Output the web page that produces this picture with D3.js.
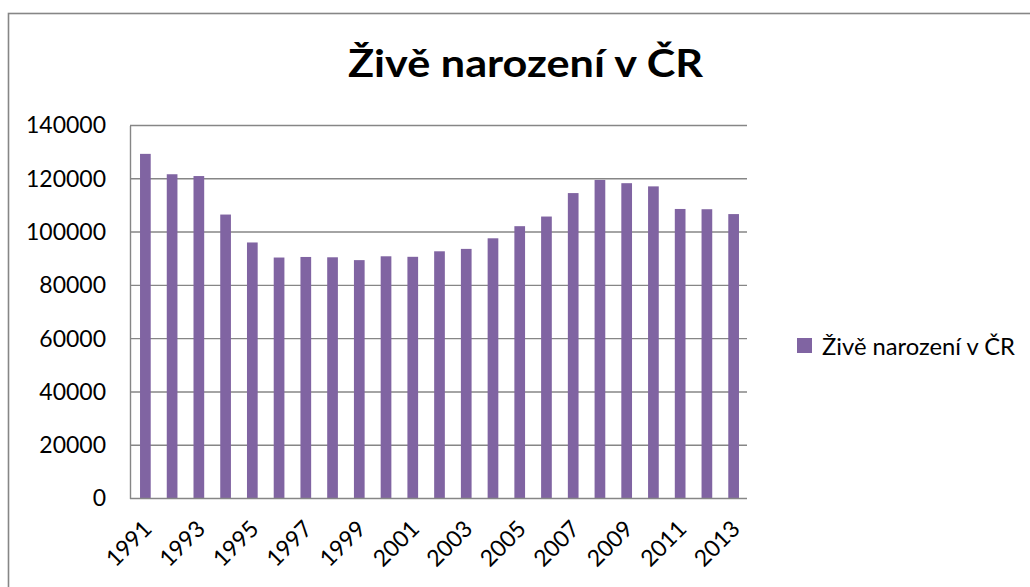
<!DOCTYPE html>
<html>
<head>
<meta charset="utf-8">
<script src="https://cdn.jsdelivr.net/npm/d3@7"></script>
<style>
  body { margin: 0; background: #fff; }
  svg { display: block; }
</style>
</head>
<body>
<svg width="1030" height="587"></svg>
<script>
// data
const years = ['1991','1992','1993','1994','1995','1996','1997','1998','1999','2000','2001','2002',
  '2003','2004','2005','2006','2007','2008','2009','2010','2011','2012','2013'];
const births = [129354,121705,121025,106579,96097,90446,90657,90535,89471,90910,90715,92786,
  93685,97664,102211,105831,114632,119570,118348,117153,108673,108576,106751];
const yTicks = [0,20000,40000,60000,80000,100000,120000,140000];
const seriesName = 'Živě narození v ČR';
const title = 'Živě narození v ČR';

const svg = d3.select('svg');
const gray = '#868686';
const purple = '#8064A2';
const font = 'Lato, "Open Sans", sans-serif';

// outer chart border (runs off the right and bottom)
svg.append('rect')
  .attr('x', 8.5).attr('y', 13.5)
  .attr('width', 1100).attr('height', 700)
  .attr('fill', 'none').attr('stroke', gray).attr('stroke-width', 1.6);

const plot = {left: 130, right: 747, top: 125.5, bottom: 498.5};

const x = d3.scaleBand()
  .domain(years)
  .range([132, plot.right])
  .paddingInner(0.6)
  .paddingOuter(0.3);

const y = d3.scaleLinear()
  .domain([0, 140000])
  .range([plot.bottom, plot.top]);

// gridlines
svg.append('g').selectAll('line').data(yTicks.filter(d => d > 0))
  .enter().append('line')
  .attr('x1', plot.left).attr('x2', plot.right)
  .attr('y1', d => y(d)).attr('y2', d => y(d))
  .attr('stroke', gray).attr('stroke-width', 1.4);

// y axis
const yAxis = svg.append('g')
  .attr('transform', `translate(${plot.left},0)`)
  .call(d3.axisLeft(y).tickValues(yTicks).tickSize(0).tickPadding(24).tickFormat(d3.format('d')));
yAxis.select('.domain').attr('stroke', gray).attr('stroke-width', 1.4);
yAxis.selectAll('text')
  .attr('font-family', font).attr('font-size', 23).attr('fill', '#000');

// bars
svg.append('g').selectAll('rect').data(years)
  .enter().append('rect')
  .attr('x', d => x(d))
  .attr('y', (d, i) => y(births[i]))
  .attr('width', x.bandwidth())
  .attr('height', (d, i) => plot.bottom - y(births[i]))
  .attr('fill', purple);

// x axis
const xAxis = svg.append('g')
  .attr('transform', `translate(0,${plot.bottom})`)
  .call(d3.axisBottom(x).tickValues(years.filter((d, i) => i % 2 === 0)).tickSize(0).tickSizeOuter(0));
xAxis.select('.domain').attr('stroke', gray).attr('stroke-width', 1.4)
  .attr('d', `M${plot.left},0H${plot.right}`);
xAxis.selectAll('text')
  .attr('font-family', font).attr('font-size', 23).attr('fill', '#000')
  .attr('text-anchor', 'end')
  .attr('dy', '0.35em')
  .attr('transform', 'translate(0,24) rotate(-45)');

// title
svg.append('text')
  .attr('x', 525.5).attr('y', 77)
  .attr('text-anchor', 'middle')
  .attr('font-family', font).attr('font-weight', 'bold').attr('font-size', 38)
  .attr('textLength', 355).attr('lengthAdjust', 'spacingAndGlyphs')
  .text(title);

// legend
const legend = svg.append('g').attr('transform', 'translate(797,338)');
legend.append('rect').attr('width', 15).attr('height', 15).attr('fill', purple);
legend.append('text')
  .attr('x', 25).attr('y', 16.5)
  .attr('font-family', font).attr('font-size', 23)
  .attr('textLength', 193).attr('lengthAdjust', 'spacingAndGlyphs')
  .text(seriesName);
</script>
</body>
</html>
